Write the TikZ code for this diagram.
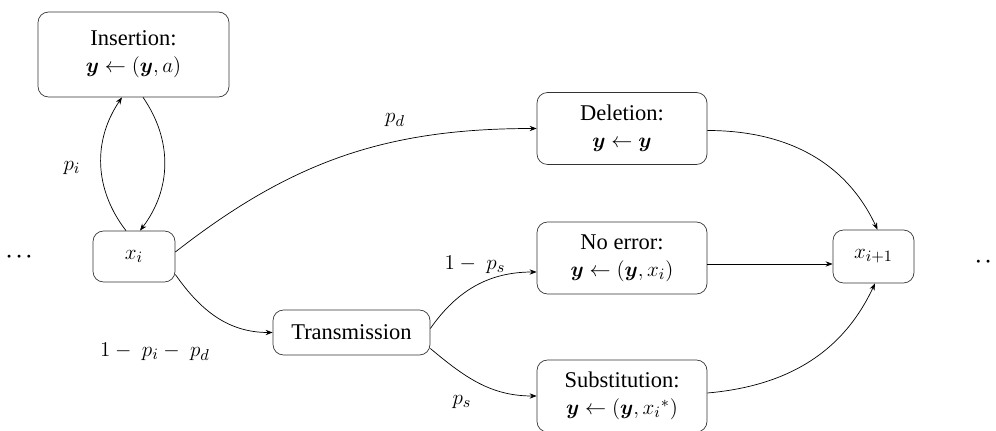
\documentclass[tikz,border=0pt]{standalone}
\usepackage{amsmath}
\usepackage{bm}
\usepackage{fontspec}
\setmainfont{Liberation Serif}
\usetikzlibrary{arrows.meta}

\begin{document}
\begin{tikzpicture}[>={Stealth[length=4pt,width=3pt]}, font=\fontsize{12.8}{15.5}\selectfont]

        \tikzset{box/.style={rectangle, rounded corners=6pt, draw=black!80, thin, align=center}}
        \tikzset{lbl/.style={inner sep=1pt}}
        \tikzset{dots/.style={inner sep=0pt, font=\fontsize{11}{11}\selectfont}}

        \useasboundingbox (0, 0) rectangle (19.92, 8.6);

        % the two symbols
        \node[box, minimum width=1.64cm, minimum height=1.02cm] at (2.68, 3.47) (xi) {$x_i$};
        \node[box, minimum width=1.62cm, minimum height=1.06cm] at (17.47, 3.47) (xj) {$x_{i+1}$};

        % dots before and after
        \node[dots] at (0.42, 3.46) (l) {$\bm{\cdots}$};
        \node[dots] at (19.80, 3.36) (r) {$\bm{\cdots}$};

        % insertion, above x_i
        \node[box, minimum width=3.82cm, minimum height=1.70cm] at (2.67, 7.51) (ins) {Insertion:\\ $\bm{y} \leftarrow (\bm{y}, a)$};

        % transmission, below right of x_i
        \node[box, minimum width=3.14cm, minimum height=0.90cm] at (7.03, 1.95) (tr) {Transmission};

        % the three outcomes, in a column
        \node[box, minimum width=3.40cm, minimum height=1.44cm] at (12.44, 6.03) (del) {Deletion:\\ $\bm{y} \leftarrow \bm{y}$};
        \node[box, minimum width=3.40cm, minimum height=1.44cm] at (12.44, 3.44) (ne) {No error:\\ $\bm{y} \leftarrow (\bm{y}, x_i)$};
        \node[box, minimum width=3.40cm, minimum height=1.44cm] at (12.44, 0.68) (sub) {Substitution:\\ $\bm{y} \leftarrow (\bm{y}, {x_i}^{*})$};

        % probabilities
        \node[lbl] at (1.44, 5.24) (pi) {$p_i$};
        \node[lbl] at (7.90, 6.20) (pd) {$p_d$};
        \node[lbl] at (3.10, 1.56) (pt) {$1 -\ p_i -\ p_d$};
        \node[lbl] at (9.50, 3.30) (pn) {$1 -\ p_s$};
        \node[lbl] at (9.24, 0.56) (ps) {$p_s$};

        % insertion loop
        \draw[->] ([xshift=-0.16cm]xi.north) to[bend left=36] ([xshift=-0.23cm]ins.south);
        \draw[->] ([xshift=0.19cm]ins.south) to[bend left=36] ([xshift=0.12cm]xi.north);

        % out of x_i
        \draw[->] ([yshift=0.09cm]xi.east) to[out=38, in=180] (del.west);
        \draw[->] ([yshift=-0.36cm]xi.east) to[out=-55, in=180] (tr.west);

        % out of transmission
        \draw[->] ([yshift=0.08cm]tr.east) to[out=55, in=180] ([yshift=-0.28cm]ne.west);
        \draw[->] ([yshift=-0.32cm]tr.east) to[out=-40, in=180] (sub.west);

        % into x_{i+1}
        \draw[->] ([yshift=-0.04cm]del.east) to[out=0, in=115] ([xshift=0.08cm]xj.north);
        \draw[->] ([yshift=-0.12cm]ne.east) -- ([yshift=-0.12cm]ne.east -| xj.west);
        \draw[->] ([yshift=0.06cm]sub.east) to[out=5, in=-115] ([xshift=0.03cm]xj.south);

    \end{tikzpicture}
\end{document}
